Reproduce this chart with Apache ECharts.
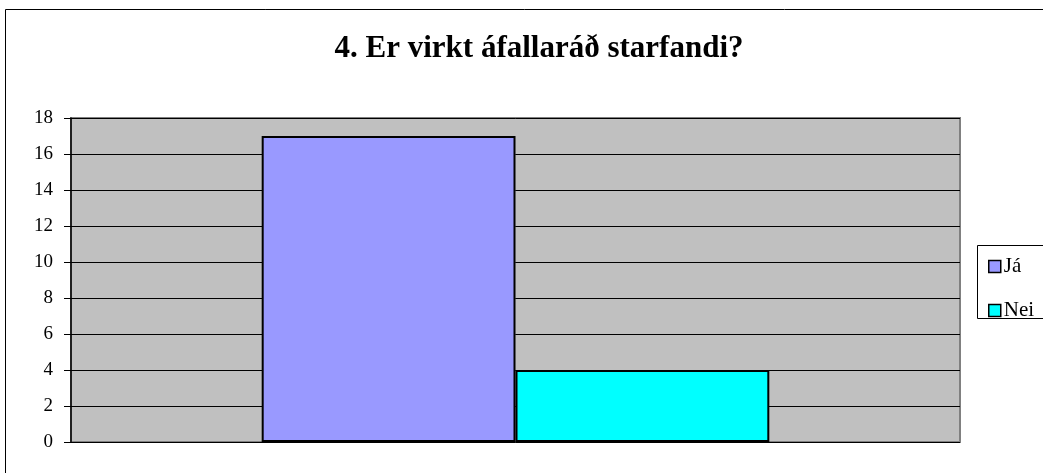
<!DOCTYPE html>
<html>
<head>
<meta charset="utf-8">
<script src="https://cdn.jsdelivr.net/npm/echarts@6/dist/echarts.min.js"></script>
<style>
  html, body { margin: 0; padding: 0; background: #fff; }
  #main { width: 1043px; height: 473px; }
</style>
</head>
<body>
<div id="main"></div>
<script>
  // chart data
  var titleText = '4. Er virkt áfallaráð starfandi?';
  var categories = [''];
  var seriesNames = ['Já', 'Nei'];
  var jaValues = [17];
  var neiValues = [4];
  var seriesColors = ['#9999FF', '#00FFFF'];

  var myChart = echarts.init(document.getElementById('main'));
  var font = '"Liberation Serif", "Times New Roman", serif';

  var option = {
    backgroundColor: '#fff',
    animation: false,
    title: {
      text: titleText,
      left: 534,
      textAlign: 'center',
      top: 28,
      textStyle: { fontFamily: font, fontSize: 31, fontWeight: 'bold', color: '#000' }
    },
    graphic: [
      {
        type: 'rect',
        shape: { x: 5.5, y: 9.5, width: 1100, height: 500 },
        style: { fill: 'none', stroke: '#000', lineWidth: 1 },
        silent: true
      },
      {
        type: 'rect',
        shape: { x: 977.5, y: 245.5, width: 70, height: 73 },
        style: { fill: '#fff', stroke: '#000', lineWidth: 1 },
        silent: true,
        z: -1
      }
    ],
    legend: {
      data: seriesNames,
      orient: 'vertical',
      left: 983,
      top: 251,
      itemWidth: 12,
      itemHeight: 12,
      itemGap: 23,
      icon: 'rect',
      textStyle: { fontFamily: font, fontSize: 21, lineHeight: 20, color: '#000', padding: [0, 0, 0, -2] },
      itemStyle: { borderColor: '#000', borderWidth: 1.5 }
    },
    grid: {
      left: 71,
      top: 118,
      width: 889,
      height: 324,
      show: true,
      backgroundColor: '#C0C0C0',
      borderColor: '#808080',
      borderWidth: 2
    },
    xAxis: {
      type: 'category',
      data: categories,
      axisLine: { show: false },
      axisTick: { show: false },
      axisLabel: { show: false }
    },
    yAxis: {
      type: 'value',
      min: 0,
      max: 18,
      interval: 2,
      axisLine: { show: true, lineStyle: { color: '#000', width: 1.5 } },
      axisTick: { show: true, inside: false, length: 7, lineStyle: { color: '#000' } },
      axisLabel: { fontFamily: font, fontSize: 19, color: '#000', margin: 18 },
      splitLine: { show: true, lineStyle: { color: '#000', width: 1 } }
    },
    series: [
      {
        name: seriesNames[0],
        type: 'bar',
        data: jaValues,
        barGap: '0%',
        barCategoryGap: '42.9%',
        itemStyle: { color: seriesColors[0], borderColor: '#000', borderWidth: 2 }
      },
      {
        name: seriesNames[1],
        type: 'bar',
        data: neiValues,
        itemStyle: { color: seriesColors[1], borderColor: '#000', borderWidth: 2 }
      }
    ]
  };

  myChart.setOption(option);
</script>
</body>
</html>
